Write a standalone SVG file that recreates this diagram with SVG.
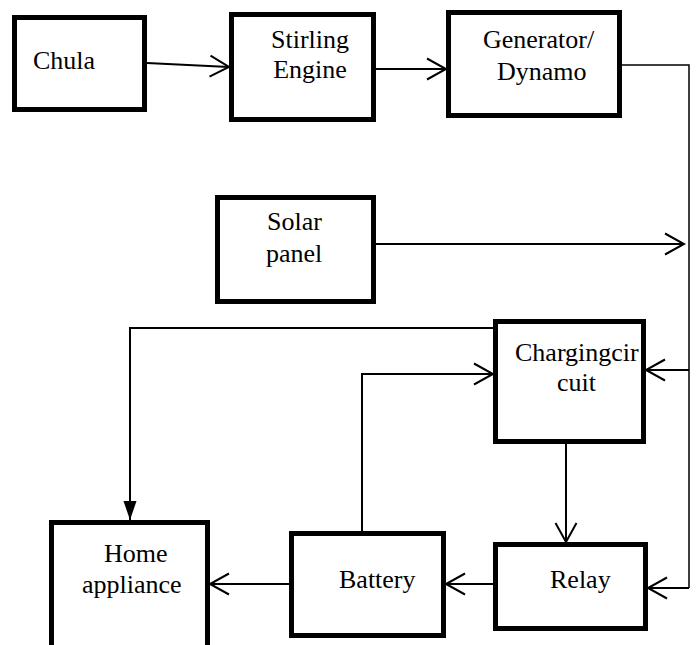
<svg xmlns="http://www.w3.org/2000/svg" width="696" height="645" viewBox="0 0 696 645">
<style>
.box{fill:#fff;stroke:#000;stroke-width:5}
.c{fill:none;stroke:#000;stroke-width:2}
.thin{fill:none;stroke:#000;stroke-width:1.5}
.t{font-family:'Liberation Serif','Times New Roman',serif;font-size:26px;fill:#000}
</style>
<defs>
<marker id="open" markerUnits="userSpaceOnUse" viewBox="-22 -13 24 26" markerWidth="24" markerHeight="26" refX="0" refY="0" orient="auto" overflow="visible">
<path d="M-19,-10.5 L0,0 L-19,10.5" fill="none" stroke="#000" stroke-width="2"/>
</marker>
<marker id="solid" markerUnits="userSpaceOnUse" viewBox="-22 -8 24 16" markerWidth="24" markerHeight="16" refX="0" refY="0" orient="auto" overflow="visible">
<path d="M-19,-6.5 L0,0 L-19,6.5 Z" fill="#000"/>
</marker>
</defs>
<rect width="696" height="645" fill="#fff"/>
<g id="connectors">
<line class="c" x1="147" y1="63" x2="229" y2="67" marker-end="url(#open)"/>
<line class="c" x1="376" y1="69" x2="446" y2="69" marker-end="url(#open)"/>
<polyline class="thin" points="617,65 689,65 689,588"/>
<line class="c" x1="689" y1="588" x2="648" y2="588" marker-end="url(#open)"/>
<line class="c" x1="689" y1="370" x2="646" y2="370" marker-end="url(#open)"/>
<line class="c" x1="376" y1="244" x2="684" y2="244" marker-end="url(#open)"/>
<line class="c" x1="566" y1="444" x2="566" y2="542" marker-end="url(#open)"/>
<line class="c" x1="493" y1="584" x2="446" y2="584" marker-end="url(#open)"/>
<line class="c" x1="289" y1="584" x2="210" y2="584" marker-end="url(#open)"/>
<polyline class="c" points="362,531 362,374 493,374" marker-end="url(#open)"/>
<polyline class="c" points="493,328 130,328 130,520" marker-end="url(#solid)"/>
</g>
<g id="chula"><rect class="box" x="14.5" y="17.5" width="130" height="92"/><text class="t" x="33" y="69">Chula</text></g>
<g id="stirling"><rect class="box" x="231.5" y="14.5" width="142" height="105"/><text class="t" x="310" y="48" text-anchor="middle">Stirling</text><text class="t" x="310" y="78" text-anchor="middle">Engine</text></g>
<g id="generator"><rect class="box" x="448.5" y="12.5" width="171" height="103"/><text class="t" x="483" y="48">Generator/</text><text class="t" x="497" y="80">Dynamo</text></g>
<g id="solar"><rect class="box" x="217.5" y="197.5" width="156" height="104"/><text class="t" x="267" y="230">Solar</text><text class="t" x="266" y="262">panel</text></g>
<g id="charging"><rect class="box" x="495.5" y="321.5" width="148" height="120"/><text class="t" x="515" y="361">Chargingcir</text><text class="t" x="557" y="391">cuit</text></g>
<g id="home"><rect class="box" x="51.5" y="522.5" width="156" height="140"/><text class="t" x="104" y="562">Home</text><text class="t" x="82" y="593">appliance</text></g>
<g id="battery"><rect class="box" x="291.5" y="533.5" width="152" height="102"/><text class="t" x="339" y="588">Battery</text></g>
<g id="relay"><rect class="box" x="495.5" y="544.5" width="150" height="84"/><text class="t" x="550" y="588">Relay</text></g>
</svg>
